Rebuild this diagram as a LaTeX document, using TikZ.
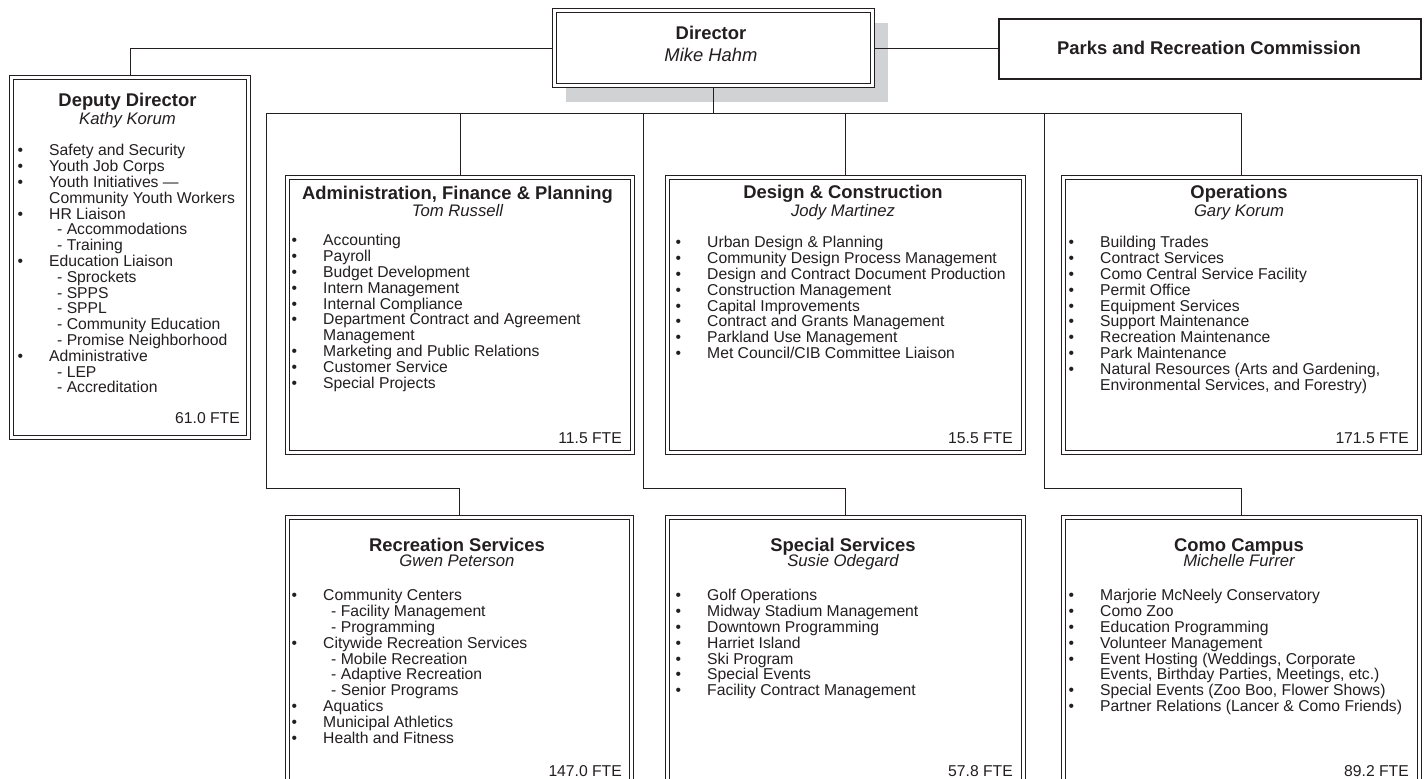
\documentclass[tikz,border=0pt]{standalone}
\usepackage{fontspec}
\setmainfont{Liberation Sans}
\definecolor{ink}{HTML}{231F20}
\definecolor{shade}{HTML}{D1D2D4}
\newcommand\bl{\llap{\textbullet\hspace{26pt}}}
\newcommand\sbi[1]{\hspace*{8pt}- #1}
\newcommand\fs{\rule{0pt}{12pt}}
\tikzset{
  conn/.style={draw=ink, line width=1pt},
  dbox/.style={draw=ink, fill=white, double=white, double distance=2.8pt, line width=1.1pt,
               rectangle, inner sep=0pt, outer sep=2.5pt, anchor=north west},
  sbox/.style={draw=ink, fill=white, line width=1.6pt, rectangle, inner sep=0pt, outer sep=0.8pt, anchor=north west},
  ttl/.style={font=\fontsize{18.4}{20}\selectfont\bfseries, text=ink, inner sep=0pt, anchor=base},
  nm/.style={font=\fontsize{16.7}{18}\selectfont\itshape, text=ink, inner sep=0pt, anchor=base},
  lst/.style={font=\fontsize{15.7}{15.8}\selectfont, text=ink, align=left, anchor=north west, inner sep=0pt},
  fte/.style={font=\fontsize{15.7}{16}\selectfont, text=ink, inner sep=0pt, anchor=base east}
}
\begin{document}
\begin{tikzpicture}[x=1pt,y=-1pt]
\useasboundingbox (0,0) rectangle (1427,779);

% shadow and director
\node[fill=shade, minimum width=322pt, minimum height=79pt, anchor=north west, inner sep=0pt, outer sep=0pt] (dirsh) at (566,23) {};
\node[dbox, minimum width=318pt, minimum height=75pt] (dir) at (552,8) {};
\node[ttl] (dirt) at (711,39.5) {Director};
\node[nm, font=\fontsize{18.4}{20}\selectfont\itshape] (dirn) at (711,61.6) {Mike Hahm};

% parks commission
\node[sbox, minimum width=422pt, minimum height=60pt] (prk) at (998,18) {};
\node[ttl] (prkt) at (1209,54.6) {Parks and Recreation Commission};

% boxes
\node[dbox, minimum width=237pt, minimum height=360pt] (dep) at (9,75) {};
\node[dbox, minimum width=345pt, minimum height=275pt] (adm) at (285,175) {};
\node[dbox, minimum width=356pt, minimum height=275pt] (des) at (665,175) {};
\node[dbox, minimum width=356pt, minimum height=275pt] (ops) at (1061,175) {};
\node[dbox, minimum width=344pt, minimum height=270pt] (rec) at (285,515) {};
\node[dbox, minimum width=356pt, minimum height=270pt] (spe) at (665,515) {};
\node[dbox, minimum width=356pt, minimum height=270pt] (com) at (1061,515) {};

% connectors
\coordinate (busL) at (266,113);
\coordinate (busM) at (643,113);
\coordinate (busN) at (1044,113);
\coordinate (elbL) at (266,488);
\coordinate (elbM) at (643,488);
\coordinate (elbN) at (1044,488);
\draw[conn] (dir.west) -| (dep.north);
\draw[conn] (dir.east) -- (dir.east -| prk.west);
\draw[conn] (dir.south) -- (dir.south |- busL);
\draw[conn] (busL) -| (ops.north);
\draw[conn] (adm.north) -- (adm.north |- busL);
\draw[conn] (des.north) -- (des.north |- busL);
\draw[conn] (busL) -- (elbL) -| (rec.north);
\draw[conn] (busM) -- (elbM) -| (spe.north);
\draw[conn] (busN) -- (elbN) -| (com.north);

% deputy
\node[ttl] (dept) at (127.5,106.5) {Deputy Director};
\node[nm] (depn) at (127.5,124) {Kathy Korum};
\node[lst] (depl) at (49,143.6) {\bl\fs Safety and Security\\
\bl Youth Job Corps\\
\bl Youth Initiatives —\\
Community Youth Workers\\
\bl HR Liaison\\
\sbi{Accommodations}\\
\sbi{Training}\\
\bl Education Liaison\\
\sbi{Sprockets}\\
\sbi{SPPS}\\
\sbi{SPPL}\\
\sbi{Community Education}\\
\sbi{Promise Neighborhood}\\
\bl Administrative\\
\sbi{LEP}\\
\sbi{Accreditation}};
\node[fte] (depf) at (240,423.6) {61.0 FTE};

% administration
\node[ttl] (admt) at (457.5,199.5) {Administration, Finance \& Planning};
\node[nm] (admn) at (457.5,216) {Tom Russell};
\node[lst] (adml) at (323,233.6) {\bl\fs Accounting\\
\bl Payroll\\
\bl Budget Development\\
\bl Intern Management\\
\bl Internal Compliance\\
\bl Department Contract and Agreement\\
Management\\
\bl Marketing and Public Relations\\
\bl Customer Service\\
\bl Special Projects};
\node[fte] (admf) at (622,443.6) {11.5 FTE};

% design
\node[ttl] (dest) at (843,198.5) {Design \& Construction};
\node[nm] (desn) at (843,216) {Jody Martinez};
\node[lst] (desl) at (707,235.6) {\bl\fs Urban Design \& Planning\\
\bl Community Design Process Management\\
\bl Design and Contract Document Production\\
\bl Construction Management\\
\bl Capital Improvements\\
\bl Contract and Grants Management\\
\bl Parkland Use Management\\
\bl Met Council/CIB Committee Liaison};
\node[fte] (desf) at (1013,443.6) {15.5 FTE};

% operations
\node[ttl] (opst) at (1239,198.5) {Operations};
\node[nm] (opsn) at (1239,216) {Gary Korum};
\node[lst] (opsl) at (1100,235.6) {\bl\fs Building Trades\\
\bl Contract Services\\
\bl Como Central Service Facility\\
\bl Permit Office\\
\bl Equipment Services\\
\bl Support Maintenance\\
\bl Recreation Maintenance\\
\bl Park Maintenance\\
\bl Natural Resources (Arts and Gardening,\\
Environmental Services, and Forestry)};
\node[fte] (opsf) at (1409,443.6) {171.5 FTE};

% recreation
\node[ttl] (rect) at (457,551.5) {Recreation Services};
\node[nm] (recn) at (457,566) {Gwen Peterson};
\node[lst] (recl) at (323,588.6) {\bl\fs Community Centers\\
\sbi{Facility Management}\\
\sbi{Programming}\\
\bl Citywide Recreation Services\\
\sbi{Mobile Recreation}\\
\sbi{Adaptive Recreation}\\
\sbi{Senior Programs}\\
\bl Aquatics\\
\bl Municipal Athletics\\
\bl Health and Fitness};
\node[fte] (recf) at (622,776) {147.0 FTE};

% special services
\node[ttl] (spet) at (843,551.5) {Special Services};
\node[nm] (spen) at (843,566) {Susie Odegard};
\node[lst] (spel) at (707,588.6) {\bl\fs Golf Operations\\
\bl Midway Stadium Management\\
\bl Downtown Programming\\
\bl Harriet Island\\
\bl Ski Program\\
\bl Special Events\\
\bl Facility Contract Management};
\node[fte] (spef) at (1013,776) {57.8 FTE};

% como campus
\node[ttl] (comt) at (1239,551.5) {Como Campus};
\node[nm] (comn) at (1239,566) {Michelle Furrer};
\node[lst] (coml) at (1100,588.6) {\bl\fs Marjorie McNeely Conservatory\\
\bl Como Zoo\\
\bl Education Programming\\
\bl Volunteer Management\\
\bl Event Hosting (Weddings, Corporate\\
Events, Birthday Parties, Meetings, etc.)\\
\bl Special Events (Zoo Boo, Flower Shows)\\
\bl Partner Relations (Lancer \& Como Friends)};
\node[fte] (comf) at (1409,776) {89.2 FTE};
\end{tikzpicture}
\end{document}
